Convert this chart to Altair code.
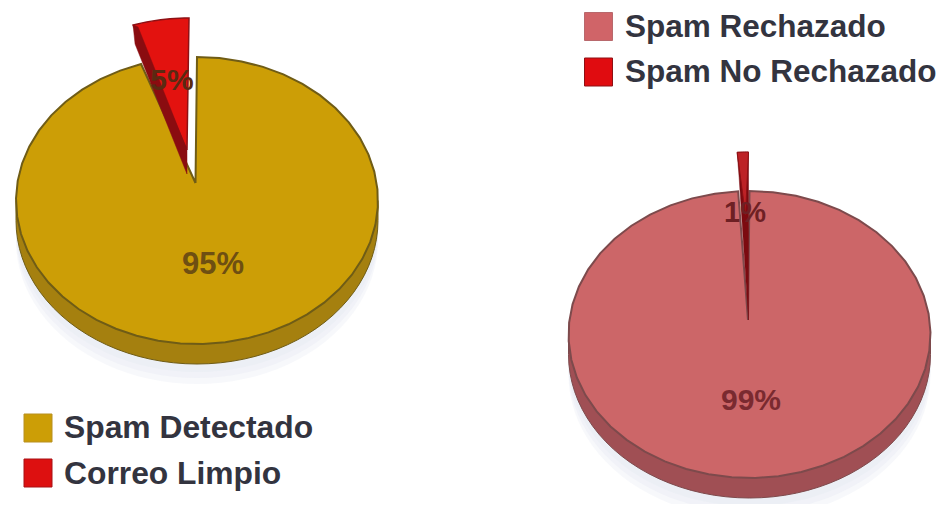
import math
import altair as alt
import pandas as pd

# Values
pie_a_labels = ["Spam Detectado", "Correo Limpio"]
pie_a_values = [95, 5]
pie_b_labels = ["Spam Rechazado", "Spam No Rechazado"]
pie_b_values = [99, 1]

RX, RY, DEPTH = 181, 143.5, 20
X_SCALE = alt.Scale(domain=[8, 937], range=[0, 929], nice=False, zero=False)
Y_SCALE = alt.Scale(domain=[504, 8], range=[496, 0], nice=False, zero=False)


def arc(cx, cy, f0, f1, dx=0, dy=0, steps=48):
    pts = []
    for i in range(steps + 1):
        t = 2 * math.pi * (f0 + (f1 - f0) * i / steps)
        pts.append((cx + dx + RX * math.sin(t), cy + dy - RY * math.cos(t)))
    return pts


def poly(pts, fill, stroke=None, width=0, opacity=1.0):
    pts = list(pts) + [pts[0]]
    df = pd.DataFrame({"x": [p[0] for p in pts], "y": [p[1] for p in pts], "i": range(len(pts))})
    kw = dict(fill=fill, fillOpacity=opacity, strokeWidth=width, stroke=stroke or fill,
              interpolate="linear", clip=True)
    if stroke is None:
        kw["strokeOpacity"] = 0
    return alt.Chart(df).mark_line(**kw).encode(
        x=alt.X("x:Q", scale=X_SCALE, axis=None),
        y=alt.Y("y:Q", scale=Y_SCALE, axis=None),
        order="i:Q",
    )


def label(x, y, text, size, color, align="center", weight="bold"):
    df = pd.DataFrame({"x": [x], "y": [y], "t": [text]})
    return alt.Chart(df).mark_text(
        font="Liberation Sans", fontSize=size, fontWeight=weight, color=color, align=align, baseline="middle"
    ).encode(
        x=alt.X("x:Q", scale=X_SCALE, axis=None),
        y=alt.Y("y:Q", scale=Y_SCALE, axis=None),
        text="t:N",
    )


def swatch(x, y, color, stroke):
    df = pd.DataFrame({"x": [x], "y": [y]})
    return alt.Chart(df).mark_square(size=784, color=color, opacity=1, stroke=stroke, strokeWidth=1).encode(
        x=alt.X("x:Q", scale=X_SCALE, axis=None),
        y=alt.Y("y:Q", scale=Y_SCALE, axis=None),
    )


def base(cx, cy, apex, values, top, wall, edge):
    major = values[0] / sum(values)
    layers = []
    for off, op in [(40, 0.35), (34, 0.45), (28, 0.55)]:
        layers.append(poly([(cx + RX, cy)] + arc(cx, cy, 0.25, 0.75, dy=off) + [(cx - RX, cy)], "#e8ecf3", opacity=op))
    layers.append(poly([(cx + RX, cy)] + arc(cx, cy, 0.25, 0.75, dy=DEPTH) + [(cx - RX, cy)], wall, edge, 1))
    layers.append(poly([apex] + arc(cx, cy, 0, major), top, edge, 2))
    return layers, major


GOLD, GOLD_W, GOLD_E = "#cc9e06", "#a5800f", "#6f5c16"
ROSE, ROSE_W, ROSE_E = "#cc6668", "#a04f54", "#7d4a4c"
RED, RED_W, RED_E = "#e3120f", "#8a0c10", "#8e1014"
INK = "#33343f"

layers = []

# left pie
ca, fa = base(197, 200.5, (195.5, 183), pie_a_values, GOLD, GOLD_W, GOLD_E)
layers += ca
sl = arc(197, 200.5, fa, 1, dx=-8, dy=-39, steps=12)
layers.append(poly([(187, 150)] + sl, RED, RED_E, 1.5))
layers.append(poly([sl[0], (sl[0][0] + 2, sl[0][1] + 19), (187, 174), (187, 150), (sl[0][0] + 5, sl[0][1] + 2)],
                   RED_W, RED_W, 0.5))

# right pie
cb, fb = base(749.5, 334.5, (748, 320), pie_b_values, ROSE, ROSE_W, ROSE_E)
layers += cb
sr = arc(749.5, 334.5, fb, 1, dx=-1, dy=-39, steps=6)
layers.append(poly([(748.5, 320), (sr[0][0] + 2, sr[0][1] + 25), sr[0], sr[-1]], "#7c0a10", "#7c0a10", 0.5))
layers.append(poly([(745.5, 215)] + sr, "#bd2226", "#8e1014", 1))

layers.append(label(213, 265, f"{pie_a_values[0]}%", 31, "#6e4f12"))
layers.append(label(172, 81, f"{pie_a_values[1]}%", 30, "#5a2a12"))
layers.append(label(751, 401, f"{pie_b_values[0]}%", 30, "#7a2a30"))
layers.append(label(745, 213, f"{pie_b_values[1]}%", 29, "#6e2024"))

layers.append(swatch(38, 428, GOLD, "#b89020"))
layers.append(swatch(38, 473, "#dd1010", "#a81014"))
layers.append(swatch(598.5, 26.5, "#d06468", "#b8686c"))
layers.append(swatch(598.5, 72, "#e00c10", "#8e1014"))
layers.append(label(64, 428, pie_a_labels[0], 31.8, INK, "left"))
layers.append(label(64, 474, pie_a_labels[1], 31.8, INK, "left"))
layers.append(label(625, 28, pie_b_labels[0], 31.5, INK, "left"))
layers.append(label(625, 73, pie_b_labels[1], 31.5, INK, "left"))

chart = alt.layer(*layers).properties(width=929, height=496, padding=0).configure_view(stroke=None)
chart.save("out.html", embed_options={"renderer": "svg", "actions": False})
